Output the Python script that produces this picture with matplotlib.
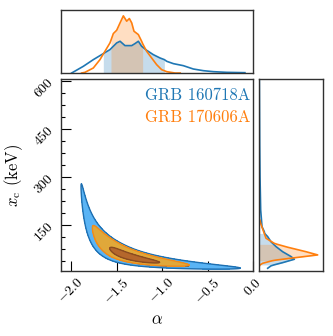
import numpy as np
import matplotlib
matplotlib.use("Agg")
import matplotlib.pyplot as plt
from matplotlib.ticker import MultipleLocator, NullLocator

plt.rcParams["font.family"] = "serif"
plt.rcParams["font.serif"] = ["cmr10"]
plt.rcParams["mathtext.fontset"] = "cm"
plt.rcParams["axes.formatter.use_mathtext"] = True
plt.rcParams["axes.unicode_minus"] = True

# ---------------- data ----------------
names = ["GRB 160718A", "GRB 170606A"]
line_colors = ["#1f77b4", "#ff7f0e"]

# top marginal: alpha posterior (relative density)
blue_alpha = [-1.993, -1.865, -1.755, -1.645, -1.572, -1.498, -1.461, -1.407, -1.333,
              -1.297, -1.260, -1.224, -1.169, -1.096, -1.022, -0.974, -0.948, -0.875,
              -0.766, -0.656, -0.546, -0.436, -0.290, -0.089]
blue_alpha_pdf = [0, 20, 40, 58, 70, 90, 95, 82, 82, 88, 95, 80, 68, 55, 45, 40, 35, 28,
                  22, 12, 7, 4, 2, 1]
blue_alpha_ci = [-1.645, -0.974]

orange_alpha = [-1.883, -1.847, -1.755, -1.682, -1.627, -1.572, -1.561, -1.535, -1.498,
                -1.461, -1.425, -1.388, -1.359, -1.333, -1.308, -1.260, -1.224, -1.213,
                -1.169, -1.114, -1.059, -1.004, -0.948, -0.857, -0.80]
orange_alpha_pdf = [0, 2, 15, 40, 65, 90, 98, 118, 128, 150, 171, 155, 163, 150, 125,
                    115, 95, 88, 65, 45, 25, 10, 4, 0, 0]
orange_alpha_ci = [-1.561, -1.213]

# right marginal: x_c posterior (relative density)
blue_xc = [15.5, 23, 26, 33, 43.5, 52, 67, 83, 98, 114, 124, 129, 145, 197, 300, 400, 600]
blue_xc_pdf = [26, 36, 45, 71, 106, 96, 71, 51, 36, 26, 17, 16, 9, 5, 3, 2, 1]
blue_xc_ci = [26, 124]

orange_xc = [20, 26, 31, 39, 41, 50, 57, 67, 81, 90, 93, 109, 155, 165]
orange_xc_pdf = [0, 3, 11, 40, 51, 121, 176, 141, 86, 55, 46, 21, 5, 3]
orange_xc_ci = [39, 90]

# 2D posterior shape: split-normal in alpha, log-normal in Ep = (2 + alpha) * x_c
alpha_mode = [-1.35, -1.45]
alpha_sig_lo = [0.28, 0.19]
alpha_sig_hi = [0.55, 0.32]
ep_center = [30.0, 34.0]
ep_log_sig = [0.27, 0.20]
xc_jacobian = [0.2, 0.8]

fill_colors = [["#5ab4f5", "#4278a8"], ["#e0a83a", "#b5672c"]]
edge_colors = [["#1f6fb0", "#2a5a85"], ["#f08a1a", "#8a4b20"]]
sigma_levels = [1 - np.exp(-0.5 * 2 ** 2), 1 - np.exp(-0.5 * 1 ** 2)]

x_lim = (-2.11, 0.0)
y_lim = (7, 605)


def density_2d(i, aa, xx):
    sig = np.where(aa < alpha_mode[i], alpha_sig_lo[i], alpha_sig_hi[i])
    pa = np.exp(-0.5 * ((aa - alpha_mode[i]) / sig) ** 2)
    ln_ep = np.log(np.clip(2 + aa, 1e-3, None) * xx)
    pe = np.exp(-0.5 * ((ln_ep - np.log(ep_center[i])) / ep_log_sig[i]) ** 2)
    d = pa * pe / xx ** xc_jacobian[i]
    d[aa <= -2] = 0.0
    return d


def hpd_levels(d, fracs):
    flat = np.sort(d.ravel())[::-1]
    cum = np.cumsum(flat)
    cum /= cum[-1]
    return [flat[np.searchsorted(cum, f)] for f in fracs]


# ---------------- figure ----------------
fig = plt.figure(figsize=(3.33, 3.36), dpi=100)
ax = fig.add_axes([0.1832, 0.1935, 0.5766, 0.5714])
ax_top = fig.add_axes([0.1832, 0.7827, 0.5766, 0.189])
ax_right = fig.add_axes([0.7778, 0.1935, 0.1922, 0.5714])

for a in (ax, ax_top, ax_right):
    for sp in a.spines.values():
        sp.set_color("#303030")
        sp.set_linewidth(1.0)

grid_a = np.linspace(x_lim[0], x_lim[1], 500)
grid_x = np.linspace(y_lim[0], y_lim[1], 700)
aa, xx = np.meshgrid(grid_a, grid_x)

for i in range(2):
    d = density_2d(i, aa, xx)
    lv = hpd_levels(d, sigma_levels)
    ax.contourf(aa, xx, d, levels=[lv[0], lv[1], d.max() * 1.01],
                colors=fill_colors[i], zorder=2 + i)
    ax.contour(aa, xx, d, levels=lv, colors=edge_colors[i], linewidths=1.0,
               zorder=2 + i)

ax.set_xlim(*x_lim)
ax.set_ylim(*y_lim)
ax.xaxis.set_major_locator(MultipleLocator(0.5))
ax.yaxis.set_major_locator(MultipleLocator(150))
ax.yaxis.set_minor_locator(MultipleLocator(37.5))
ax.tick_params(which="both", direction="in", width=0.8, labelsize=10)
ax.tick_params(which="major", length=7)
ax.tick_params(which="minor", length=3)
ax.tick_params(axis="x", labelrotation=45)
ax.tick_params(axis="y", labelrotation=45)
ax.set_xlabel(r"$\alpha$", fontsize=12)
ax.set_ylabel(r"$x_{\rm c}$ (keV)", fontsize=12)

ax.text(0.985, 0.955, names[0], color=line_colors[0], fontsize=12,
        ha="right", va="top", transform=ax.transAxes)
ax.text(0.985, 0.84, names[1], color=line_colors[1], fontsize=12,
        ha="right", va="top", transform=ax.transAxes)

# top marginal
for xs, ys, ci, c in [(blue_alpha, blue_alpha_pdf, blue_alpha_ci, line_colors[0]),
                      (orange_alpha, orange_alpha_pdf, orange_alpha_ci, line_colors[1])]:
    xs = np.array(xs)
    ys = np.array(ys)
    ax_top.plot(xs, ys, color=c, lw=1.2)
    ax_top.fill_between(xs, 0, ys, where=(xs >= ci[0]) & (xs <= ci[1]),
                        color=c, alpha=0.25, lw=0)
ax_top.set_xlim(*x_lim)
ax_top.set_ylim(0, 190)
ax_top.xaxis.set_major_locator(NullLocator())
ax_top.yaxis.set_major_locator(NullLocator())

# right marginal
for ys, xs, ci, c in [(blue_xc, blue_xc_pdf, blue_xc_ci, line_colors[0]),
                      (orange_xc, orange_xc_pdf, orange_xc_ci, line_colors[1])]:
    xs = np.array(xs)
    ys = np.array(ys)
    ax_right.plot(xs, ys, color=c, lw=1.2)
    ax_right.fill_betweenx(ys, 0, xs, where=(ys >= ci[0]) & (ys <= ci[1]),
                           color=c, alpha=0.25, lw=0)
ax_right.set_ylim(*y_lim)
ax_right.set_xlim(0, 192)
ax_right.xaxis.set_major_locator(NullLocator())
ax_right.yaxis.set_major_locator(NullLocator())

fig.savefig("out.png", dpi=100)
